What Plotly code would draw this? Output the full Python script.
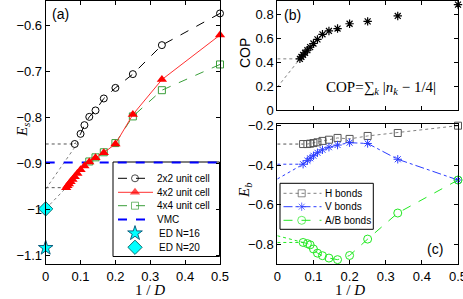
import plotly.graph_objects as go

# ---------------- data ----------------
# panel (a)
x_2x2 = [0.5, 0.3333, 0.25, 0.2, 0.1667, 0.1429, 0.125, 0.1111, 0.1, 0.0833]
y_2x2 = [-0.573, -0.642, -0.705, -0.735, -0.758, -0.784, -0.798, -0.816, -0.835, -0.857]
x_4x2 = [0.5, 0.3333, 0.25, 0.2, 0.1667, 0.1429, 0.125, 0.1111, 0.1, 0.0909, 0.0833,
         0.0769, 0.0714, 0.0667, 0.0625, 0.0588]
y_4x2 = [-0.62, -0.717, -0.793, -0.857, -0.876, -0.887, -0.896, -0.905, -0.913, -0.921,
         -0.928, -0.934, -0.939, -0.944, -0.948, -0.952]
x_4x4 = [0.5, 0.3333, 0.25, 0.2, 0.1667, 0.1429, 0.125]
y_4x4 = [-0.684, -0.74, -0.797, -0.855, -0.875, -0.886, -0.895]
vmc_x = [0, 0.5]
vmc_y = [-0.897, -0.897]
ed16_x, ed16_y = [0], [-1.083]
ed20_x, ed20_y = [0], [-0.998]
# extrapolation guides (a)
fit2x2_x = [0, 0.1]
fit2x2_y = [-0.955, -0.846]
h2x2_x = [0, 0.0833]
h2x2_y = [-0.857, -0.857]
fit4x2_x = [0, 0.0588]
fit4x2_y = [-0.998, -0.952]
h4x2_x = [0, 0.0588]
h4x2_y = [-0.952, -0.952]

# panel (b)
x_cop = [0.5, 0.3333, 0.25, 0.2, 0.1667, 0.1429, 0.125, 0.1111, 0.1, 0.0909, 0.0833,
         0.0769, 0.0714, 0.0667, 0.0625]
y_cop = [0.88, 0.785, 0.74, 0.72, 0.68, 0.66, 0.632, 0.59, 0.555, 0.525, 0.5,
         0.478, 0.46, 0.443, 0.427]
fitcop_x = [0, 0.0625]
fitcop_y = [0.19, 0.427]
hcop_x = [0, 0.0625]
hcop_y = [0.427, 0.427]

# panel (c)
x_b = [0.5, 0.3333, 0.25, 0.2, 0.1667, 0.1429, 0.125, 0.1111, 0.1, 0.0909, 0.0833, 0.0714]
y_h = [-0.2, -0.237, -0.252, -0.267, -0.262, -0.271, -0.277, -0.284, -0.288, -0.291, -0.293, -0.293]
y_v = [-0.475, -0.37, -0.29, -0.286, -0.298, -0.309, -0.322, -0.337, -0.352, -0.365, -0.377, -0.395]
y_ab = [-0.475, -0.642, -0.774, -0.857, -0.878, -0.87, -0.858, -0.845, -0.824, -0.803, -0.797, -0.791]
hh_x = [0, 0.0714]; hh_y = [-0.293, -0.293]
hv_x = [0, 0.0714]; hv_y = [-0.395, -0.395]
fv_x = [0, 0.0714]; fv_y = [-0.47, -0.395]
hab_x = [0, 0.0714]; hab_y = [-0.791, -0.791]
fab_x = [0, 0.0714]; fab_y = [-0.757, -0.791]

xticks = [0, 0.1, 0.2, 0.3, 0.4, 0.5]
xticktext = ["0", "0.1", "0.2", "0.3", "0.4", "0.5"]
ya_ticks = [-1.1, -1, -0.9, -0.8, -0.7, -0.6]
ya_text = ["\u22121.1", "\u22121", "\u22120.9", "\u22120.8", "\u22120.7", "\u22120.6"]
yb_ticks = [0, 0.2, 0.4, 0.6, 0.8]
yb_text = ["0", "0.2", "0.4", "0.6", "0.8"]
yc_ticks = [-0.8, -0.6, -0.4, -0.2]
yc_text = ["\u22120.8", "\u22120.6", "\u22120.4", "\u22120.2"]

legend_a_labels = ["2x2 unit cell", "4x2 unit cell", "4x4 unit cell", "VMC", "ED N=16", "ED N=20"]
legend_c_labels = ["H bonds", "V bonds", "A/B bonds"]

# ---------------- styles ----------------
GREEN = "#3a9e3a"
LGREEN = "#22e822"
BLUE = "#0000ff"
VBLUE = "#2b3cff"
GREY = "#808080"
CYAN = "#00ffff"

st_2x2 = dict(line=dict(color="black", width=1, dash="dash"),
              marker=dict(symbol="circle-open", size=7, color="black", line=dict(width=1)))
st_4x2 = dict(line=dict(color="#ff3030", width=1),
              marker=dict(symbol="triangle-up", size=9, color="red", line=dict(width=0)))
st_4x4 = dict(line=dict(color=GREEN, width=1, dash="dash"),
              marker=dict(symbol="square-open", size=7, color=GREEN, line=dict(width=1)))
st_vmc = dict(line=dict(color=BLUE, width=2, dash="dash"))
st_ed16 = dict(marker=dict(symbol="star", size=11, color=CYAN, line=dict(color="#106080", width=1)))
st_ed20 = dict(marker=dict(symbol="diamond", size=11, color=CYAN, line=dict(color="#107070", width=1)))
st_h = dict(line=dict(color=GREY, width=1, dash="dot"),
            marker=dict(symbol="square-open", size=7, color="#555555", line=dict(width=1)))
st_v = dict(line=dict(color=VBLUE, width=1, dash="dashdot"),
            marker=dict(symbol="asterisk-open", size=7, color=VBLUE, line=dict(width=1, color=VBLUE)))
st_ab = dict(line=dict(color=LGREEN, width=1, dash="dash"),
             marker=dict(symbol="circle-open", size=8, color=LGREEN, line=dict(width=1)))

fig = go.Figure()

def guide(x, y, color, xa="x", ya="y"):
    fig.add_trace(go.Scatter(x=x, y=y, mode="lines", xaxis=xa, yaxis=ya,
                             line=dict(color=color, width=1, dash="dot"),
                             showlegend=False, hoverinfo="skip"))

def series(x, y, style, mode, xa="x", ya="y"):
    fig.add_trace(go.Scatter(x=x, y=y, mode=mode, xaxis=xa, yaxis=ya,
                             showlegend=False, cliponaxis=False, **style))

# ---- panel (a) ----
guide(fit2x2_x, fit2x2_y, GREY)
guide(h2x2_x, h2x2_y, "#555555")
guide(fit4x2_x, fit4x2_y, GREY)
guide(h4x2_x, h4x2_y, "#555555")
series(vmc_x, vmc_y, st_vmc, "lines")
series(x_2x2, y_2x2, st_2x2, "lines+markers")
series(x_4x4, y_4x4, st_4x4, "lines+markers")
series(x_4x2, y_4x2, st_4x2, "lines+markers")
series(ed16_x, ed16_y, st_ed16, "markers")
series(ed20_x, ed20_y, st_ed20, "markers")

# ---- panel (b) ----
guide(fitcop_x, fitcop_y, GREY, "x2", "y2")
guide(hcop_x, hcop_y, GREY, "x2", "y2")
series(x_cop, y_cop, dict(marker=dict(symbol="asterisk-open", size=7, color="black",
                                      line=dict(width=1.2, color="black"))), "markers", "x2", "y2")

# ---- panel (c) ----
guide(hh_x, hh_y, "#555555", "x3", "y3")
guide(hv_x, hv_y, VBLUE, "x3", "y3")
guide(fv_x, fv_y, VBLUE, "x3", "y3")
guide(hab_x, hab_y, LGREEN, "x3", "y3")
guide(fab_x, fab_y, LGREEN, "x3", "y3")
series(x_b, y_h, st_h, "lines+markers", "x3", "y3")
series(x_b, y_v, st_v, "lines+markers", "x3", "y3")
series(x_b, y_ab, st_ab, "lines+markers", "x3", "y3")

# ---------------- layout ----------------
W, H = 463, 299
def px(v): return v / W
def py(v): return 1 - v / H

# legends drawn on a pixel-unit overlay axis (x4/y4)
def legend_key(style, xl, xm, xr, yrow, mode):
    if mode == "markers":
        fig.add_trace(go.Scatter(x=[xm], y=[yrow], mode="markers", xaxis="x4", yaxis="y4",
                                 showlegend=False, hoverinfo="skip", cliponaxis=False, **style))
    else:
        st = dict(style)
        if "marker" in st:
            mk = dict(st["marker"]); mk["size"] = [0, mk["size"], 0]; st["marker"] = mk
        fig.add_trace(go.Scatter(x=[xl, xm, xr], y=[yrow] * 3, mode=mode, xaxis="x4", yaxis="y4",
                                 showlegend=False, hoverinfo="skip", cliponaxis=False, **st))

shapes = []
annotations = []
leg_font = dict(family="Liberation Sans, Arial", size=10, color="black")

# legend (a)
shapes.append(dict(type="rect", xref="paper", yref="paper", x0=px(113), x1=px(219.5),
                   y0=py(256.5), y1=py(162), line=dict(color="black", width=1),
                   fillcolor="white", layer="below"))
rows_a = [178.3, 192.3, 205.7, 219.6, 233.3, 247.3]
styles_a = [(st_2x2, "lines+markers"), (st_4x2, "lines+markers"), (st_4x4, "lines+markers"),
            (st_vmc, "lines"), (st_ed16, "markers"), (st_ed20, "markers")]
for lab, (stl, mode), yr in zip(legend_a_labels, styles_a, rows_a):
    legend_key(stl, 118, 135, 153, yr, mode)
    annotations.append(dict(text=lab, x=px(155 if mode != "markers" else 157), y=py(yr),
                            xref="paper", yref="paper", xanchor="left", yanchor="middle",
                            showarrow=False, font=leg_font))

# legend (c)
shapes.append(dict(type="rect", xref="paper", yref="paper", x0=px(280), x1=px(373.3),
                   y0=py(229.3), y1=py(183.3), line=dict(color="black", width=1),
                   fillcolor="white", layer="below"))
rows_c = [193.3, 206.7, 220.3]
styles_c = [(st_h, "lines+markers"), (st_v, "lines+markers"), (st_ab, "lines+markers")]
for lab, (stl, mode), yr in zip(legend_c_labels, styles_c, rows_c):
    legend_key(stl, 283.5, 301.7, 321.5, yr, mode)
    annotations.append(dict(text=lab, x=px(323), y=py(yr), xref="paper", yref="paper",
                            xanchor="left", yanchor="middle", showarrow=False, font=leg_font))

axis_common = dict(showline=True, mirror="ticks", linecolor="black", linewidth=1,
                   ticks="inside", ticklen=4, tickcolor="black", zeroline=False,
                   showgrid=False, automargin=False, ticklabeloverflow="allow",
                   tickfont=dict(family="Liberation Sans, Arial", size=13, color="black"))

fig.update_layout(
    template="none",
    width=W, height=H, margin=dict(l=0, r=0, t=0, b=0, pad=0, autoexpand=False),
    paper_bgcolor="white", plot_bgcolor="rgba(0,0,0,0)",
    font=dict(family="Liberation Sans, Arial", size=13, color="black"),
    showlegend=False,
    xaxis=dict(domain=[px(45.7), px(220)], range=[0, 0.5], tickvals=xticks,
               ticktext=xticktext, anchor="y", **axis_common),
    yaxis=dict(domain=[py(264), py(1)], range=[-1.118, -0.546],
               tickvals=ya_ticks, ticktext=ya_text, anchor="x", **axis_common),
    xaxis2=dict(domain=[px(277.3), px(458)], range=[0, 0.5], tickvals=xticks,
                showticklabels=False, anchor="y2", **axis_common),
    yaxis2=dict(domain=[py(110), py(1)], range=[0, 0.91], tickvals=yb_ticks,
                ticktext=yb_text, anchor="x2", **axis_common),
    xaxis3=dict(domain=[px(277.3), px(458)], range=[0, 0.5], tickvals=xticks,
                ticktext=xticktext, anchor="y3", **axis_common),
    yaxis3=dict(domain=[py(264), py(124.3)], range=[-0.9, -0.193],
                tickvals=yc_ticks, ticktext=yc_text, anchor="x3", **axis_common),
    xaxis4=dict(domain=[0, 1], range=[0, W], visible=False, anchor="y4", fixedrange=True),
    yaxis4=dict(domain=[0, 1], range=[H, 0], visible=False, anchor="x4", fixedrange=True),
)

ann_font = dict(family="Liberation Sans, Arial", size=14, color="black")
serif = dict(family="Liberation Serif, Times New Roman", size=15, color="black")
annotations += [
    dict(text="(a)", x=px(50), y=py(14), xanchor="left", font=ann_font),
    dict(text="(b)", x=px(282), y=py(15), xanchor="left", font=ann_font),
    dict(text="(c)", x=px(435), y=py(249), xanchor="center", font=ann_font),
    dict(text="COP=\u2211<sub><i>k</i></sub> |<i>n<sub>k</sub></i> \u2212 1/4|",
         x=px(381), y=py(88), xanchor="center", font=serif),
    dict(text="<i>E<sub>s</sub></i>", x=px(12), y=py(130), textangle=-90, font=serif),
    dict(text="<i>E<sub>b</sub></i>", x=px(245), y=py(191), textangle=-90, font=serif),
    dict(text="COP", x=px(245), y=py(53), textangle=-90, font=ann_font),
    dict(text="1 / <i>D</i>", x=px(133), y=py(290), font=serif),
    dict(text="1 / <i>D</i>", x=px(367), y=py(290), font=serif),
]
for a in annotations:
    a.setdefault("xref", "paper"); a.setdefault("yref", "paper")
    a.setdefault("showarrow", False); a.setdefault("yanchor", "middle")
    fig.add_annotation(**a)
for s in shapes:
    fig.add_shape(**s)

# remove the browser's default 8px body margin so the figure sits at the window origin
fig.write_html("out.html", config={"displayModeBar": False},
               post_script="document.body.style.margin='0px';document.body.style.overflow='hidden';")
